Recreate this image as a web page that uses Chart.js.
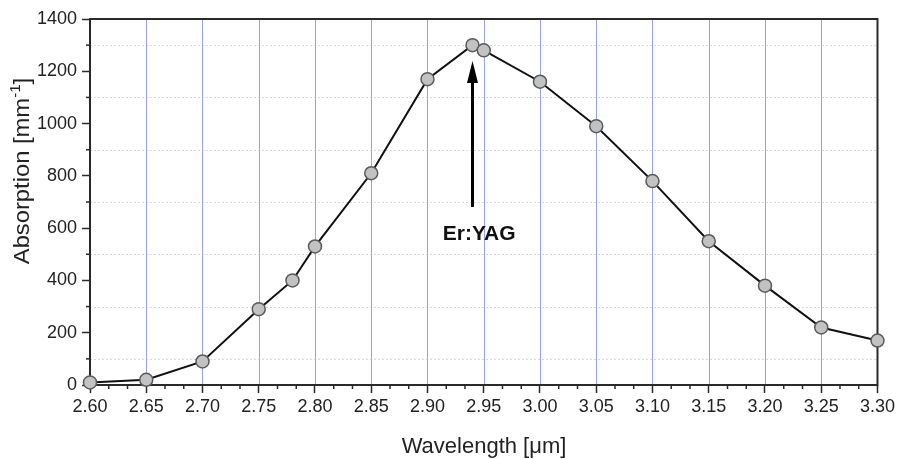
<!DOCTYPE html>
<html><head><meta charset="utf-8">
<script src="https://cdn.jsdelivr.net/npm/chart.js@4"></script>
<style>html,body{margin:0;padding:0;background:#fff;}</style>
</head><body>
<canvas id="c" width="898" height="459"></canvas>
<script>
// ---- data ----
const wavelengths = [2.60, 2.65, 2.70, 2.75, 2.78, 2.80, 2.85, 2.90, 2.94, 2.95, 3.00, 3.05, 3.10, 3.15, 3.20, 3.25, 3.30];
const absorption  = [10, 20, 90, 290, 400, 530, 810, 1170, 1300, 1280, 1160, 990, 780, 550, 380, 220, 170];
const xTicks = [2.60, 2.65, 2.70, 2.75, 2.80, 2.85, 2.90, 2.95, 3.00, 3.05, 3.10, 3.15, 3.20, 3.25, 3.30];
const yTicks = [0, 200, 400, 600, 800, 1000, 1200, 1400];
const yMinorTicks = [100, 300, 500, 700, 900, 1100, 1300];
const xTitle = 'Wavelength [\u03bcm]';
const yTitleMain = 'Absorption [mm';
const yTitleSup = '-1';
const yTitleEnd = ']';
const arrowLabel = 'Er:YAG';
// annotation anchor (data units)
const arrowX = 2.94, arrowTipY = 1239, arrowBaseY = 681;
const labelX = 2.946, labelY = 575;

const FONT = "'Liberation Sans', Arial, sans-serif";

const decor = {
  id: 'decor',
  beforeDatasetsDraw(chart) {
    const {ctx, chartArea: a, scales: {x, y}} = chart;
    ctx.save();
    // vertical grid lines at inner major x ticks
    ctx.strokeStyle = 'rgb(150,162,225)';
    ctx.lineWidth = 1;
    x.ticks.forEach((t, i) => {
      if (i === 0 || i === x.ticks.length - 1) return;
      const px = Math.round(x.getPixelForValue(t.value)) + 0.5;
      ctx.beginPath(); ctx.moveTo(px, a.top); ctx.lineTo(px, a.bottom); ctx.stroke();
    });
    // minor dotted horizontal grid lines
    ctx.strokeStyle = 'rgba(185,185,185,0.55)';
    ctx.setLineDash([2, 2]);
    yMinorTicks.forEach(v => {
      const py = Math.round(y.getPixelForValue(v)) + 0.5;
      ctx.beginPath(); ctx.moveTo(a.left, py); ctx.lineTo(a.right, py); ctx.stroke();
    });
    ctx.setLineDash([]);
    // frame
    ctx.strokeStyle = '#2a2a2a';
    ctx.lineWidth = 2;
    ctx.strokeRect(a.left, a.top, a.right - a.left, a.bottom - a.top);
    // minor ticks
    ctx.lineWidth = 1.5;
    for (let i = 0; i < xTicks.length - 1; i++) {
      const step = (xTicks[i + 1] - xTicks[i]) / 3;
      [1, 2].forEach(k => {
        const px = x.getPixelForValue(xTicks[i] + k * step);
        ctx.beginPath(); ctx.moveTo(px, a.bottom); ctx.lineTo(px, a.bottom + 4); ctx.stroke();
      });
    }
    yMinorTicks.forEach(v => {
      const py = y.getPixelForValue(v);
      ctx.beginPath(); ctx.moveTo(a.left, py); ctx.lineTo(a.left - 4, py); ctx.stroke();
    });
    ctx.restore();
  },
  afterDatasetsDraw(chart) {
    const {ctx, scales: {x, y}} = chart;
    ctx.save();
    const ax = x.getPixelForValue(arrowX);
    const tip = y.getPixelForValue(arrowTipY);
    const base = y.getPixelForValue(arrowBaseY);
    ctx.strokeStyle = '#000';
    ctx.fillStyle = '#000';
    ctx.lineWidth = 3;
    ctx.beginPath(); ctx.moveTo(ax, base); ctx.lineTo(ax, tip + 18); ctx.stroke();
    ctx.beginPath();
    ctx.moveTo(ax, tip); ctx.lineTo(ax - 5.5, tip + 22); ctx.lineTo(ax + 5.5, tip + 22); ctx.closePath();
    ctx.fill();
    ctx.font = 'bold 21px ' + FONT;
    ctx.textAlign = 'center';
    ctx.textBaseline = 'middle';
    ctx.fillStyle = '#111';
    ctx.fillText(arrowLabel, x.getPixelForValue(labelX), y.getPixelForValue(labelY));
    ctx.restore();
  },
  afterDraw(chart) {
    const {ctx} = chart;
    ctx.save();
    ctx.fillStyle = '#222';
    ctx.font = '22px ' + FONT;
    ctx.textAlign = 'center';
    ctx.textBaseline = 'alphabetic';
    ctx.fillText(xTitle, 484, 453);
    // y title rotated with superscript
    ctx.translate(29, 171);
    ctx.rotate(-Math.PI / 2);
    ctx.scale(1.08, 1);
    ctx.textAlign = 'left';
    const mainFont = '22px ' + FONT, supFont = '14px ' + FONT;
    ctx.font = mainFont; const w1 = ctx.measureText(yTitleMain).width; const w3 = ctx.measureText(yTitleEnd).width;
    ctx.font = supFont; const w2 = ctx.measureText(yTitleSup).width;
    let sx = -(w1 + w2 + w3) / 2;
    ctx.font = mainFont; ctx.fillText(yTitleMain, sx, 0); sx += w1;
    ctx.font = supFont; ctx.fillText(yTitleSup, sx, -9); sx += w2;
    ctx.font = mainFont; ctx.fillText(yTitleEnd, sx, 0);
    ctx.restore();
  }
};

new Chart(document.getElementById('c'), {
  type: 'scatter',
  data: {
    datasets: [{
      data: wavelengths.map((w, i) => ({x: w, y: absorption[i]})),
      showLine: true,
      borderColor: '#111',
      borderWidth: 2,
      tension: 0,
      pointRadius: 6.5,
      pointBackgroundColor: '#c2c2c2',
      pointBorderColor: '#5a5a5a',
      pointBorderWidth: 1.5,
      clip: false
    }]
  },
  options: {
    responsive: false,
    animation: false,
    devicePixelRatio: 1,
    layout: {padding: {top: 19, right: 19, left: 0, bottom: 0}},
    plugins: {legend: {display: false}, tooltip: {enabled: false}},
    scales: {
      x: {
        type: 'linear', min: 2.6, max: 3.3,
        afterBuildTicks: s => { s.ticks = xTicks.map(v => ({value: v})); },
        afterFit: s => { s.height = 74; },
        ticks: {
          callback: v => Number(v).toFixed(2),
          font: {family: FONT, size: 18}, color: '#222', padding: 3,
          maxRotation: 0, autoSkip: false
        },
        grid: {drawOnChartArea: false, tickLength: 8, tickColor: '#2a2a2a', tickWidth: 1.5},
        border: {display: false}
      },
      y: {
        type: 'linear', min: 0, max: 1400,
        afterBuildTicks: s => { s.ticks = yTicks.map(v => ({value: v})); },
        afterFit: s => { s.width = 90; },
        ticks: {callback: v => String(v), font: {family: FONT, size: 18}, color: '#222', padding: 5},
        grid: {drawOnChartArea: false, tickLength: 8, tickColor: '#2a2a2a', tickWidth: 1.5},
        border: {display: false}
      }
    }
  },
  plugins: [decor]
});
</script>
</body></html>
